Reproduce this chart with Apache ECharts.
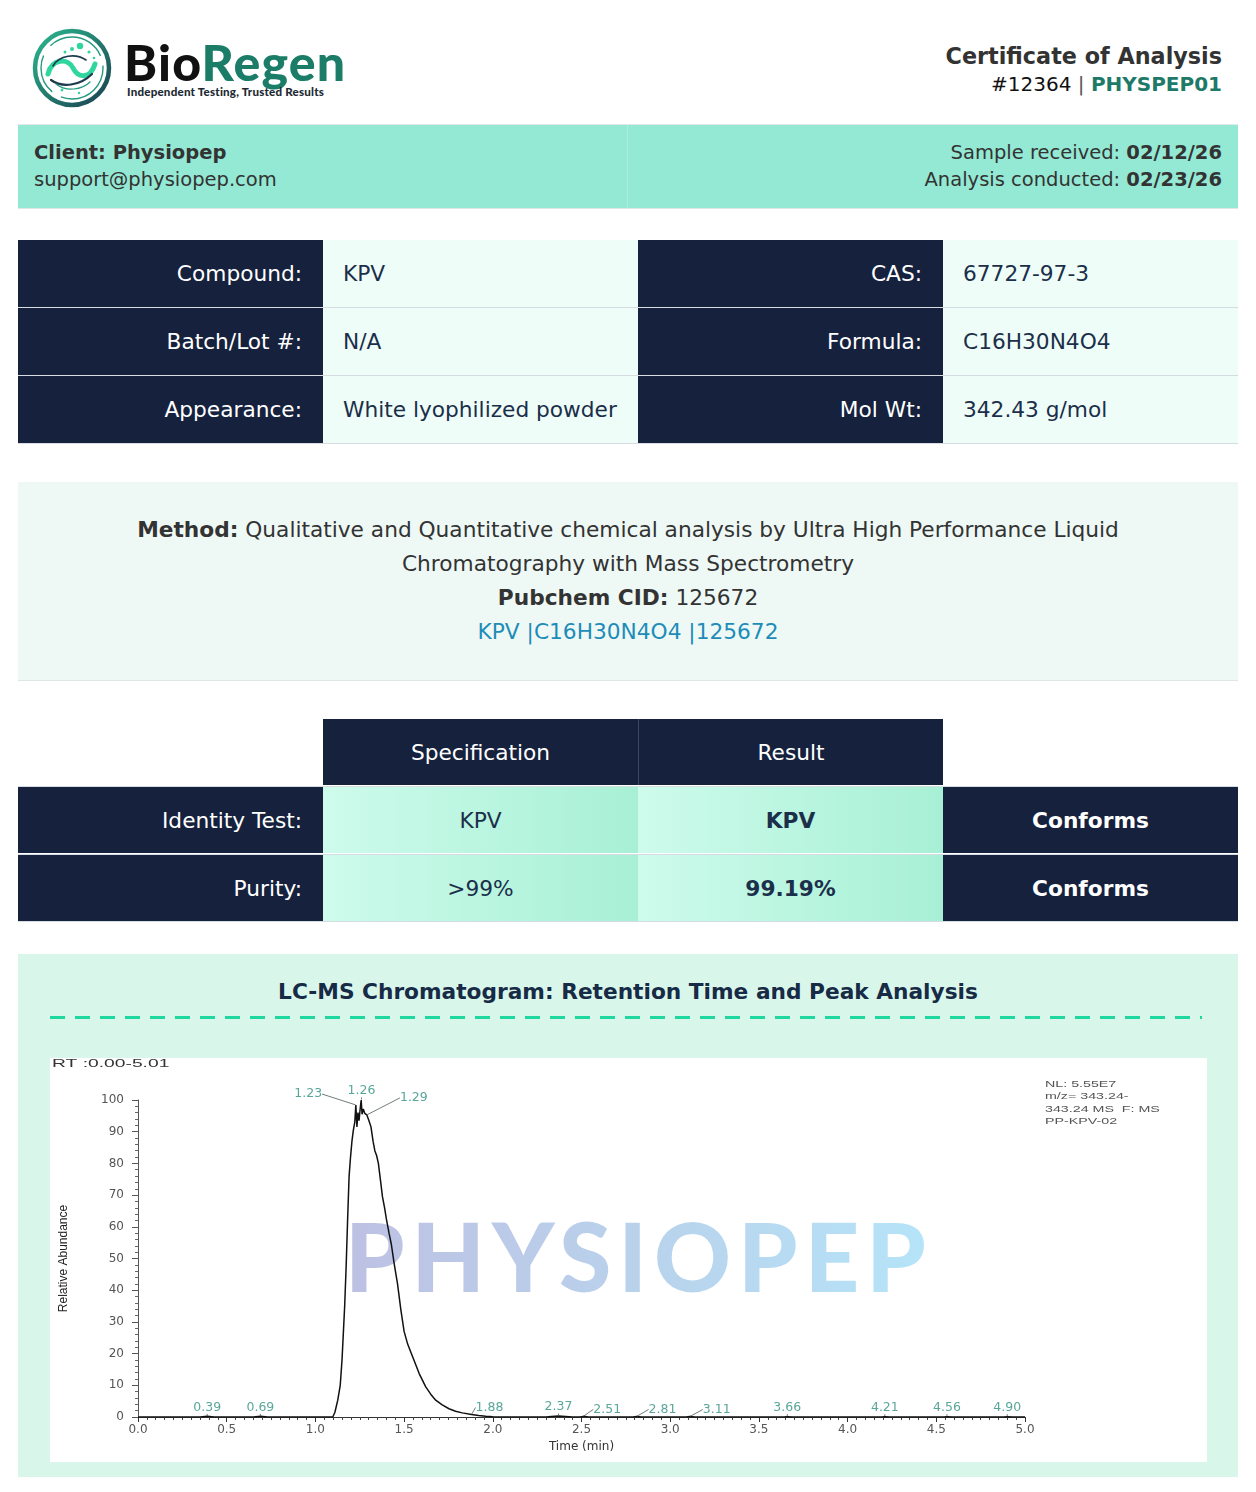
<!DOCTYPE html>
<html>
<head>
<meta charset="utf-8">
<script src="https://cdn.jsdelivr.net/npm/echarts@6/dist/echarts.min.js"></script>
<style>
  html,body{margin:0;padding:0;background:#fff;}
  body{width:1256px;height:1492px;position:relative;overflow:hidden;font-family:"DejaVu Sans",sans-serif;}
  .abs{position:absolute;}
  .cell{position:absolute;display:flex;align-items:center;box-sizing:border-box;font-size:21.7px;white-space:nowrap;}
  .navy{background:#16213d;color:#fff;}
  .lab{justify-content:flex-end;padding-right:21px;}
  .val{background:#effdf8;color:#1b2f4a;padding-left:20px;}
  .ctr{justify-content:center;}
  .grad{background:linear-gradient(90deg,#cefbec 0%,#a7f0d5 100%);color:#1b2f4a;}
  .hline{position:absolute;height:1px;background:#d6dde2;}
</style>
</head>
<body>
<!-- header -->
<svg class="abs" style="left:32px;top:28px" width="80" height="80" viewBox="0 0 80 80">
  <defs>
    <linearGradient id="ring" x1="0" y1="0" x2="1" y2="1">
      <stop offset="0" stop-color="#2bb990"/>
      <stop offset="1" stop-color="#1c3f4f"/>
    </linearGradient>
  </defs>
  <circle cx="40" cy="40" r="37" fill="none" stroke="url(#ring)" stroke-width="4.5"/>
  <circle cx="40" cy="40" r="31" fill="none" stroke="#249a80" stroke-width="1.4" stroke-dasharray="60 10 40 12"/>
  <path d="M16 46 C 20 30, 36 30, 41 40 S 58 52, 63 36" fill="none" stroke="#2fd69e" stroke-width="5" stroke-linecap="round"/>
  <path d="M19 52 C 30 60, 48 58, 60 46" fill="none" stroke="#1e3a4d" stroke-width="2.2" stroke-linecap="round"/>
  <path d="M21 38 C 27 27, 44 25, 54 32" fill="none" stroke="#1e3a4d" stroke-width="1.6" stroke-linecap="round"/>
  <path d="M24 56 C 34 64, 50 62, 58 54" fill="none" stroke="#249a80" stroke-width="1.2" stroke-linecap="round"/>
  <circle cx="48" cy="18" r="3.2" fill="#2fd69e"/>
  <circle cx="40" cy="21" r="2" fill="#2fd69e"/>
  <circle cx="33" cy="24" r="1.5" fill="#2fd69e"/>
  <circle cx="57" cy="24" r="1.6" fill="#2fd69e"/>
  <circle cx="62" cy="30" r="1.3" fill="#2fd69e"/>
  <circle cx="30" cy="62" r="1.4" fill="#2fd69e"/>
  <circle cx="47" cy="65" r="1.2" fill="#2fd69e"/>
</svg>
<div class="abs" style="left:124px;top:33px;font-family:Lato,'Open Sans',sans-serif;font-weight:900;font-size:50px;line-height:58px;letter-spacing:1.2px;"><span style="color:#111">Bio</span><span style="color:#1b7d68">Regen</span></div>
<div class="abs" style="left:127px;top:85px;font-family:Lato,'Open Sans',sans-serif;font-weight:900;font-size:11.6px;line-height:14px;letter-spacing:0.2px;color:#1d2a33;">Independent Testing, Trusted Results</div>

<div class="abs" style="right:34px;top:42px;font-size:22.3px;line-height:28px;font-weight:bold;color:#333;">Certificate of Analysis</div>
<div class="abs" style="right:34px;top:71px;font-size:20px;line-height:26px;color:#111;">#12364 <span style="color:#555">|</span> <b style="color:#1e7a68">PHYSPEP01</b></div>

<!-- client bar -->
<div class="abs" style="left:18px;top:124px;width:1220px;height:1px;background:#e4e8ea"></div>
<div class="abs" style="left:18px;top:125px;width:1220px;height:83px;background:#93e9d4;"></div>
<div class="abs" style="left:627px;top:125px;width:1px;height:83px;background:#a9efdd;"></div>
<div class="abs" style="left:18px;top:208px;width:1220px;height:1px;background:#dfe6e8"></div>
<div class="abs" style="left:34px;top:139px;font-size:19.5px;line-height:27px;color:#333;"><b>Client: Physiopep</b><br>support@physiopep.com</div>
<div class="abs" style="right:34px;top:139px;font-size:19.5px;line-height:27px;color:#333;text-align:right;">Sample received: <b>02/12/26</b><br>Analysis conducted: <b>02/23/26</b></div>

<!-- info table -->
<div class="cell navy lab" style="left:18px;top:240px;width:305px;height:67px;">Compound:</div>
<div class="cell val" style="left:323px;top:240px;width:315px;height:67px;">KPV</div>
<div class="cell navy lab" style="left:638px;top:240px;width:305px;height:67px;">CAS:</div>
<div class="cell val" style="left:943px;top:240px;width:295px;height:67px;">67727-97-3</div>
<div class="hline" style="left:18px;top:307px;width:1220px;"></div>
<div class="cell navy lab" style="left:18px;top:308px;width:305px;height:67px;">Batch/Lot #:</div>
<div class="cell val" style="left:323px;top:308px;width:315px;height:67px;">N/A</div>
<div class="cell navy lab" style="left:638px;top:308px;width:305px;height:67px;">Formula:</div>
<div class="cell val" style="left:943px;top:308px;width:295px;height:67px;">C16H30N4O4</div>
<div class="hline" style="left:18px;top:375px;width:1220px;"></div>
<div class="cell navy lab" style="left:18px;top:376px;width:305px;height:67px;">Appearance:</div>
<div class="cell val" style="left:323px;top:376px;width:315px;height:67px;">White lyophilized powder</div>
<div class="cell navy lab" style="left:638px;top:376px;width:305px;height:67px;">Mol Wt:</div>
<div class="cell val" style="left:943px;top:376px;width:295px;height:67px;">342.43 g/mol</div>
<div class="hline" style="left:18px;top:443px;width:1220px;"></div>

<!-- method -->
<div class="abs" style="left:18px;top:482px;width:1220px;height:198px;background:#eef9f6;border-bottom:1px solid #dde8e5;"></div>
<div class="abs" style="left:18px;top:513px;width:1220px;text-align:center;font-size:21.7px;line-height:34px;color:#333;white-space:nowrap;">
<b>Method:</b> Qualitative and Quantitative chemical analysis by Ultra High Performance Liquid<br>
Chromatography with Mass Spectrometry<br>
<b>Pubchem CID:</b> 125672<br>
<span style="color:#1d8cb8">KPV |C16H30N4O4 |125672</span>
</div>

<!-- results table -->
<div class="cell navy ctr" style="left:323px;top:719px;width:315px;height:66px;">Specification</div>
<div class="cell navy ctr" style="left:638px;top:719px;width:305px;height:66px;border-left:1px solid #3b4760;">Result</div>
<div class="hline" style="left:18px;top:786px;width:1220px;"></div>
<div class="cell navy lab" style="left:18px;top:787px;width:305px;height:66px;">Identity Test:</div>
<div class="cell grad ctr" style="left:323px;top:787px;width:315px;height:66px;">KPV</div>
<div class="cell grad ctr" style="left:638px;top:787px;width:305px;height:66px;font-weight:bold;">KPV</div>
<div class="cell navy ctr" style="left:943px;top:787px;width:295px;height:66px;font-weight:bold;">Conforms</div>
<div class="hline" style="left:18px;top:854px;width:1220px;"></div>
<div class="cell navy lab" style="left:18px;top:855px;width:305px;height:66px;">Purity:</div>
<div class="cell grad ctr" style="left:323px;top:855px;width:315px;height:66px;">&gt;99%</div>
<div class="cell grad ctr" style="left:638px;top:855px;width:305px;height:66px;font-weight:bold;">99.19%</div>
<div class="cell navy ctr" style="left:943px;top:855px;width:295px;height:66px;font-weight:bold;">Conforms</div>
<div class="hline" style="left:18px;top:921px;width:1220px;"></div>

<!-- chart section -->
<div class="abs" style="left:18px;top:954px;width:1220px;height:523px;background:#d8f7ea;"></div>
<div class="abs" style="left:18px;top:978px;width:1220px;text-align:center;font-size:21.7px;line-height:28px;font-weight:bold;color:#172a46;">LC-MS Chromatogram: Retention Time and Peak Analysis</div>
<svg class="abs" style="left:50px;top:1015px" width="1152" height="5"><line x1="0" y1="2.5" x2="1152" y2="2.5" stroke="#1fd8a0" stroke-width="3" stroke-dasharray="15 10"/></svg>
<div class="abs" style="left:50px;top:1058px;width:1157px;height:404px;background:#fff;"></div>
<div class="abs" style="left:345px;top:1200px;font-family:Lato,'Open Sans',sans-serif;font-weight:900;font-size:95px;line-height:110px;letter-spacing:7px;background:linear-gradient(90deg,#bdc1e3 0%,#b9d2ec 50%,#b5e4f8 100%);-webkit-background-clip:text;background-clip:text;color:transparent;">PHYSIOPEP</div>
<div id="chart" class="abs" style="left:50px;top:1058px;width:1157px;height:404px;"></div>

<script>
// ---- data ----
const chromTime = [0.00,0.35,0.39,0.43,0.65,0.69,0.73,1.00,1.098,1.110,1.126,1.140,1.150,1.158,1.165,1.173,1.182,1.190,1.198,1.206,1.214,1.222,1.228,1.234,1.240,1.246,1.252,1.258,1.263,1.270,1.278,1.290,1.300,1.313,1.325,1.335,1.345,1.355,1.365,1.378,1.390,1.400,1.415,1.428,1.444,1.463,1.482,1.500,1.520,1.548,1.585,1.622,1.650,1.678,1.715,1.753,1.790,1.828,1.880,1.920,1.960,2.000,2.050,2.30,2.33,2.37,2.41,2.45,2.49,2.51,2.54,2.79,2.81,2.84,3.09,3.11,3.14,3.64,3.66,3.69,4.19,4.21,4.24,4.54,4.56,4.59,4.88,4.90,4.93,5.00];
const chromAbundance = [0,0,0.2,0,0,0.2,0,0,0,1.5,5.3,10.0,18,27,35,47,63,76,82,87,90.5,93,98.4,91.5,96,93.5,97,100,95.5,97.2,95.8,95.3,93.8,91.6,87,84,82.5,80,75.5,69.5,66,62.5,58,54.5,48.4,42,33.7,27,23,19,13.7,9.5,7.2,5.3,3.8,2.6,1.8,1.3,0.8,0.45,0.25,0.1,0,0,0.15,0.3,0.15,0,0,0.2,0,0,0.15,0,0,0.15,0,0,0.1,0,0,0.1,0,0,0.1,0,0,0.1,0,0];
const peakTimes = [0.39,0.69,1.23,1.26,1.29,1.88,2.37,2.51,2.81,3.11,3.66,4.21,4.56,4.90];
const peakHeights = [0.2,0.2,98.4,100,95.3,0.8,0.3,0.2,0.15,0.15,0.1,0.1,0.1,0.1];
const xMin = 0, xMax = 5, xStep = 0.5;
const yMin = 0, yMax = 100, yStep = 10;
const xAxisTitle = 'Time (min)';
const yAxisTitle = 'Relative Abundance';
const rangeText = 'RT :0.00-5.01';
const infoText = 'NL: 5.55E7\nm/z= 343.24-\n343.24 MS  F: MS\nPP-KPV-02';

// ---- rendering ----
const traceData = chromTime.map((t, i) => [t, chromAbundance[i]]);
const peakData = peakTimes.map((t, i) => [t, peakHeights[i]]);
const labelShift = {2: [-48, -2], 4: [47, -8], 5: [18, 2], 7: [24, 2], 8: [26, 2], 9: [27, 2]};
const axisFont = '"DejaVu Sans", sans-serif';
const chart = echarts.init(document.getElementById('chart'));
chart.setOption({
  animation: false,
  backgroundColor: 'transparent',
  grid: {left: 84, top: 42, width: 891, height: 317},
  xAxis: {
    type: 'value', min: xMin, max: xMax, interval: xStep,
    name: xAxisTitle, nameLocation: 'middle', nameGap: 20,
    nameTextStyle: {fontFamily: axisFont, fontSize: 12, color: '#333'},
    axisLine: {lineStyle: {color: '#333', width: 1}},
    axisTick: {length: 5, lineStyle: {color: '#333'}},
    minorTick: {show: true, splitNumber: 10, length: 3, lineStyle: {color: '#444'}},
    splitLine: {show: false},
    axisLabel: {formatter: v => v.toFixed(1), margin: 7, fontFamily: axisFont, fontSize: 12, color: '#555'}
  },
  yAxis: {
    type: 'value', min: yMin, max: yMax, interval: yStep,
    name: yAxisTitle, nameLocation: 'middle', nameGap: 68, nameRotate: 90,
    nameTextStyle: {fontFamily: '"Liberation Sans Narrow", "Liberation Sans", sans-serif', fontSize: 12, color: '#222'},
    axisLine: {show: true, lineStyle: {color: '#555', width: 1}},
    axisTick: {show: true, length: 6, lineStyle: {color: '#555'}},
    minorTick: {show: true, splitNumber: 5, length: 3, lineStyle: {color: '#666'}},
    splitLine: {show: false},
    axisLabel: {margin: 14, fontFamily: axisFont, fontSize: 12, color: '#555'}
  },
  series: [
    {
      type: 'line', data: traceData, showSymbol: false, z: 3,
      lineStyle: {color: '#111', width: 1.5}
    },
    {
      type: 'scatter', data: peakData, symbolSize: 1, z: 4,
      itemStyle: {color: 'rgba(0,0,0,0)'},
      label: {
        show: true, position: 'top', distance: 2,
        formatter: p => peakTimes[p.dataIndex].toFixed(2),
        color: '#2f8f80', fontFamily: axisFont, fontSize: 12.5
      },
      labelLayout: p => {
        const s = labelShift[p.dataIndex];
        return s ? {dx: s[0], dy: s[1]} : {};
      },
      labelLine: {show: true, lineStyle: {color: '#4d5a58', width: 0.8}}
    }
  ],
  graphic: [
    {type: 'text', x: 2, y: 0, scaleX: 1.75, style: {text: rangeText, font: '11px "Liberation Sans", sans-serif', fill: '#333'}},
    {type: 'text', x: 995, y: 20, scaleX: 1.5, style: {text: infoText, font: '9.5px "Liberation Sans", sans-serif', lineHeight: 12.5, fill: '#555'}}
  ]
});
</script>
</body>
</html>
